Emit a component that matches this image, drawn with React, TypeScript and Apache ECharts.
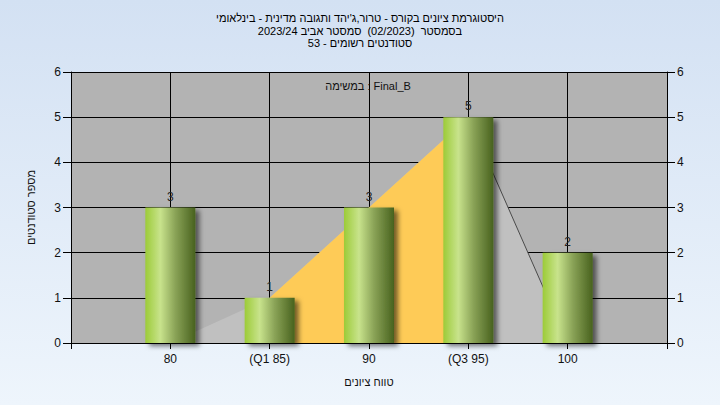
import React, { useEffect, useRef } from "react";
import * as echarts from "echarts";

const grades = [80, 85, 90, 95, 100];
const tickLabels = ["80", "(Q1 85)", "90", "(Q3 95)", "100"];
const counts = [3, 1, 3, 5, 2];
const curve = [0, 1, 3, 5, 0];
const q1 = 85;
const q3 = 95;
const titleLines = [
  "היסטוגרמת ציונים בקורס - טרור,ג'יהד ותגובה מדינית - בינלאומי",
  "בסמסטר  (02/2023)  סמסטר אביב 2023/24",
  "סטודנטים רשומים - 53",
];
const taskLabel = "במשימה : Final_B";
const xName = "טווח ציונים";
const yName = "מספר סטודנטים";

const FONT = "Liberation Sans, Arial, sans-serif";

export default function App() {
  const ref = useRef<HTMLDivElement>(null);
  useEffect(() => {
    if (!ref.current) return;
    const chart = echarts.init(ref.current, null, { renderer: "svg" });
    const pts = grades.map((g, i) => [g, curve[i]]);
    const yellow = pts.filter((p) => p[0] >= q1 && p[0] <= q3);
    const edge = pts.filter((p) => p[0] >= q3);
    const barGrad = new echarts.graphic.LinearGradient(0, 0, 1, 0, [
      { offset: 0, color: "#9ccb38" },
      { offset: 0.3, color: "#c8e38c" },
      { offset: 0.6, color: "#8aa357" },
      { offset: 1, color: "#48621e" },
    ]);
    const yAxisBase = {
      type: "value",
      min: 0,
      max: 6,
      interval: 1,
      axisLine: { show: true, lineStyle: { color: "#000", width: 1 } },
      axisTick: { show: true, length: 8, lineStyle: { color: "#000" } },
      axisLabel: { color: "#111", fontSize: 12, fontFamily: FONT, margin: 10 },
    };
    chart.setOption({
      animation: false,
      backgroundColor: "transparent",
      title: {
        text: titleLines.join("\n"),
        left: "center",
        top: 7,
        textStyle: {
          fontSize: 11,
          fontWeight: "normal",
          color: "#000",
          fontFamily: FONT,
          lineHeight: 12.5,
        },
      },
      graphic: [
        {
          type: "text",
          x: 368,
          y: 86,
          style: {
            text: taskLabel,
            fontSize: 11,
            fontFamily: FONT,
            fill: "#111",
            align: "center",
            verticalAlign: "middle",
          },
          z: 100,
        },
      ],
      grid: {
        left: 71,
        right: 53,
        top: 72,
        bottom: 62,
        show: true,
        backgroundColor: "#b3b3b3",
        borderWidth: 0,
      },
      xAxis: {
        type: "value",
        min: 75,
        max: 105,
        interval: 5,
        name: xName,
        nameLocation: "middle",
        nameGap: 33,
        nameTextStyle: { fontSize: 11, fontFamily: FONT, color: "#111" },
        axisLine: { show: true, onZero: false, lineStyle: { color: "#000" } },
        axisTick: { show: true, length: 6, lineStyle: { color: "#000" } },
        axisLabel: {
          color: "#111",
          fontSize: 12,
          fontFamily: FONT,
          margin: 10,
          showMinLabel: true,
          showMaxLabel: true,
          formatter: (v: number) => {
            const i = grades.indexOf(v);
            return i >= 0 ? tickLabels[i] : "";
          },
        },
        splitLine: { show: true, lineStyle: { color: "#000", width: 1 } },
      },
      yAxis: [
        {
          ...yAxisBase,
          position: "left",
          name: yName,
          nameLocation: "middle",
          nameGap: 35,
          nameTextStyle: { fontSize: 11, fontFamily: FONT, color: "#111" },
          splitLine: { show: true, lineStyle: { color: "#000", width: 1 } },
        },
        {
          ...yAxisBase,
          position: "right",
          splitLine: { show: false },
        },
      ],
      series: [
        {
          type: "line",
          data: pts,
          symbol: "none",
          lineStyle: { width: 0 },
          areaStyle: { color: "#c0c0c0", opacity: 1 },
          silent: true,
          z: 1,
        },
        {
          type: "line",
          data: yellow,
          symbol: "none",
          lineStyle: { width: 0 },
          areaStyle: { color: "#fecb57", opacity: 1 },
          silent: true,
          z: 1,
        },
        {
          type: "line",
          data: edge,
          symbol: "none",
          lineStyle: { width: 1, color: "#4a4a4a" },
          silent: true,
          z: 1,
        },
        {
          type: "bar",
          data: grades.map((g, i) => [g, counts[i]]),
          barWidth: 50,
          z: 5,
          itemStyle: {
            color: barGrad,
            shadowColor: "rgba(0,0,0,0.55)",
            shadowBlur: 5,
            shadowOffsetX: 4,
            shadowOffsetY: 3,
          },
          label: {
            show: true,
            position: "top",
            distance: 5,
            color: "#222",
            fontSize: 12,
            fontFamily: FONT,
            formatter: (p: any) => String(p.value[1]),
          },
        },
      ],
    });
    return () => chart.dispose();
  }, []);
  return (
    <div
      style={{
        position: "fixed",
        left: 0,
        top: 0,
        width: 720,
        height: 405,
        background: "linear-gradient(to bottom, #d3e1f3, #eef5fc)",
      }}
    >
      <div ref={ref} style={{ width: 720, height: 405 }} />
    </div>
  );
}
